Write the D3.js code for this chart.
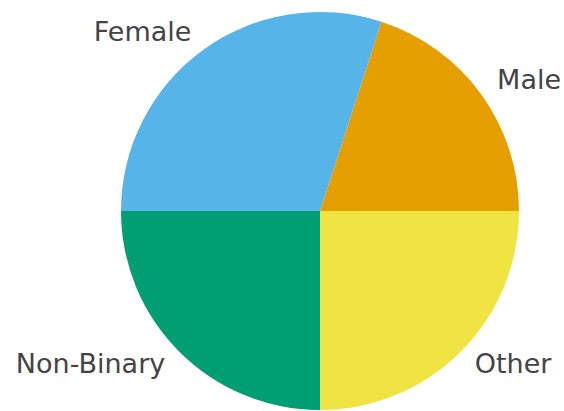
<!DOCTYPE html>
<html>
<head>
<meta charset="utf-8">
<script src="https://cdn.jsdelivr.net/npm/d3@7"></script>
<style>
  html, body { margin: 0; padding: 0; background: #fff; }
  svg { display: block; }
</style>
</head>
<body>
<script>
// Gender breakdown shown as a pie, counter-clockwise from 3 o'clock
const categories = ["Male", "Female", "Non-Binary", "Other"];
const values = [20, 30, 25, 25];
const colors = ["#E69F00", "#56B4E9", "#009E73", "#F0E442"];

const width = 564, height = 411;
const cx = 320, cy = 211, radius = 199;

const svg = d3.select("body").append("svg")
  .attr("width", width)
  .attr("height", height);

const data = categories.map((c, i) => ({ name: c, value: values[i], color: colors[i] }));

// Start at 3 o'clock (pi/2 in d3 terms) and sweep counter-clockwise
const pie = d3.pie()
  .value(d => d.value)
  .sort(null)
  .startAngle(Math.PI / 2)
  .endAngle(Math.PI / 2 - 2 * Math.PI);

const arc = d3.arc().innerRadius(0).outerRadius(radius);

const g = svg.append("g").attr("transform", `translate(${cx},${cy})`);
const arcs = pie(data);

g.selectAll("path")
  .data(arcs)
  .join("path")
  .attr("d", arc)
  .attr("fill", d => d.data.color);

// Labels at 1.1 radius, anchored away from the centre
g.selectAll("text")
  .data(arcs)
  .join("text")
  .each(function(d) {
    const mid = (d.startAngle + d.endAngle) / 2;
    const x = Math.sin(mid) * radius * 1.1;
    const y = -Math.cos(mid) * radius * 1.1;
    d3.select(this)
      .attr("x", x)
      .attr("y", y)
      .attr("text-anchor", x >= 0 ? "start" : "end");
  })
  .attr("dy", "0.26em")
  .attr("font-family", "DejaVu Sans, sans-serif")
  .attr("font-size", 27)
  .attr("fill", "#444")
  .text(d => d.data.name);
</script>
</body>
</html>
